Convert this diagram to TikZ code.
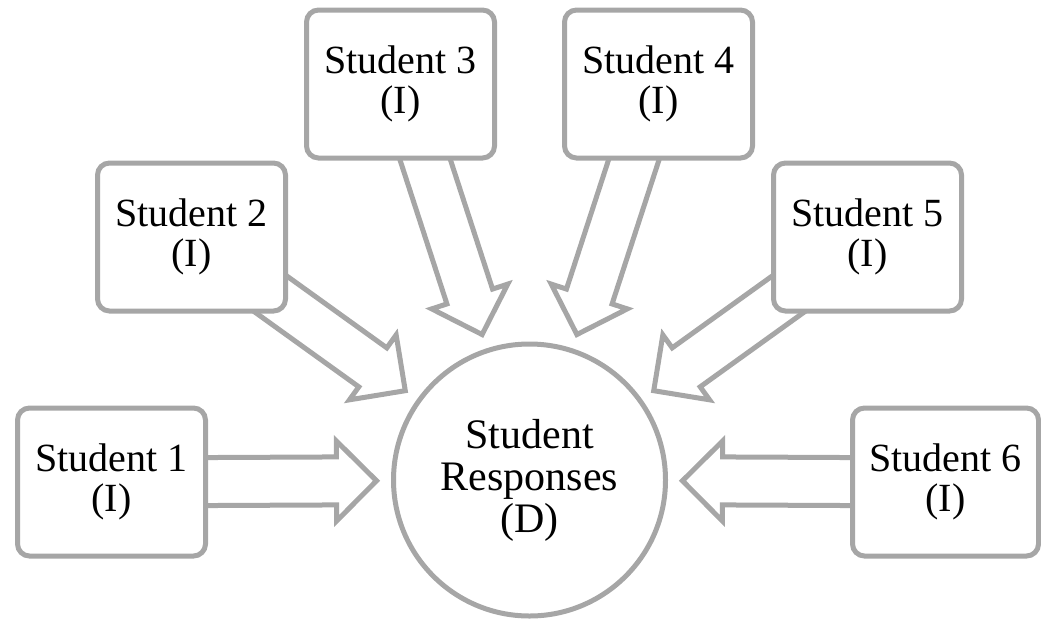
\documentclass[tikz,border=0pt]{standalone}
\usepackage{fontspec}
\setmainfont{Liberation Serif}
\usetikzlibrary{calc}
\pgfdeclarelayer{background}
\pgfsetlayers{background,main}
\definecolor{linegray}{HTML}{A6A6A6}
\newcommand{\blockarrow}[2]{%
  \coordinate (ba-t) at ($(#2.center)!153pt!(#1.center)$);
  \coordinate (ba-b) at ($(ba-t)!40pt!(#1.center)$);
  \coordinate (ba-s) at (#1.center);
  \draw[barrow] (ba-t) -- ($(ba-b)!40pt!90:(ba-t)$) -- ($(ba-b)!24pt!90:(ba-t)$)
    -- ($(ba-s)!24pt!90:(ba-t)$) -- ($(ba-s)!24pt!-90:(ba-t)$)
    -- ($(ba-b)!24pt!-90:(ba-t)$) -- ($(ba-b)!40pt!-90:(ba-t)$) -- cycle;
}
\begin{document}
\begin{tikzpicture}[x=1pt,y=-1pt,
  box/.style={draw=linegray, line width=5pt, fill=white, rounded corners=12pt,
    minimum width=188pt, minimum height=148pt, align=center, inner sep=0pt,
    font=\fontsize{40}{40}\selectfont},
  hub/.style={circle, draw=linegray, line width=5pt, fill=white,
    minimum size=272pt, align=center, inner sep=0pt,
    font=\fontsize{42}{42}\selectfont},
  barrow/.style={draw=linegray, line width=5pt, fill=white, line join=miter}]
\useasboundingbox (0,0) rectangle (1041,619);
\node[hub] (c) at (529.5,480) {Student\\Responses\\(D)};
\node[box] (s1) at (111.5,482) {Student 1\\(I)};
\node[box] (s2) at (191.5,237) {Student 2\\(I)};
\node[box] (s3) at (400.5,84) {Student 3\\(I)};
\node[box] (s4) at (658.5,84) {Student 4\\(I)};
\node[box] (s5) at (867.5,237) {Student 5\\(I)};
\node[box, minimum width=186pt] (s6) at (945.5,482) {Student 6\\(I)};
\begin{pgfonlayer}{background}
\blockarrow{s1}{c}
\blockarrow{s2}{c}
\blockarrow{s3}{c}
\blockarrow{s4}{c}
\blockarrow{s5}{c}
\blockarrow{s6}{c}
\end{pgfonlayer}
\end{tikzpicture}
\end{document}
